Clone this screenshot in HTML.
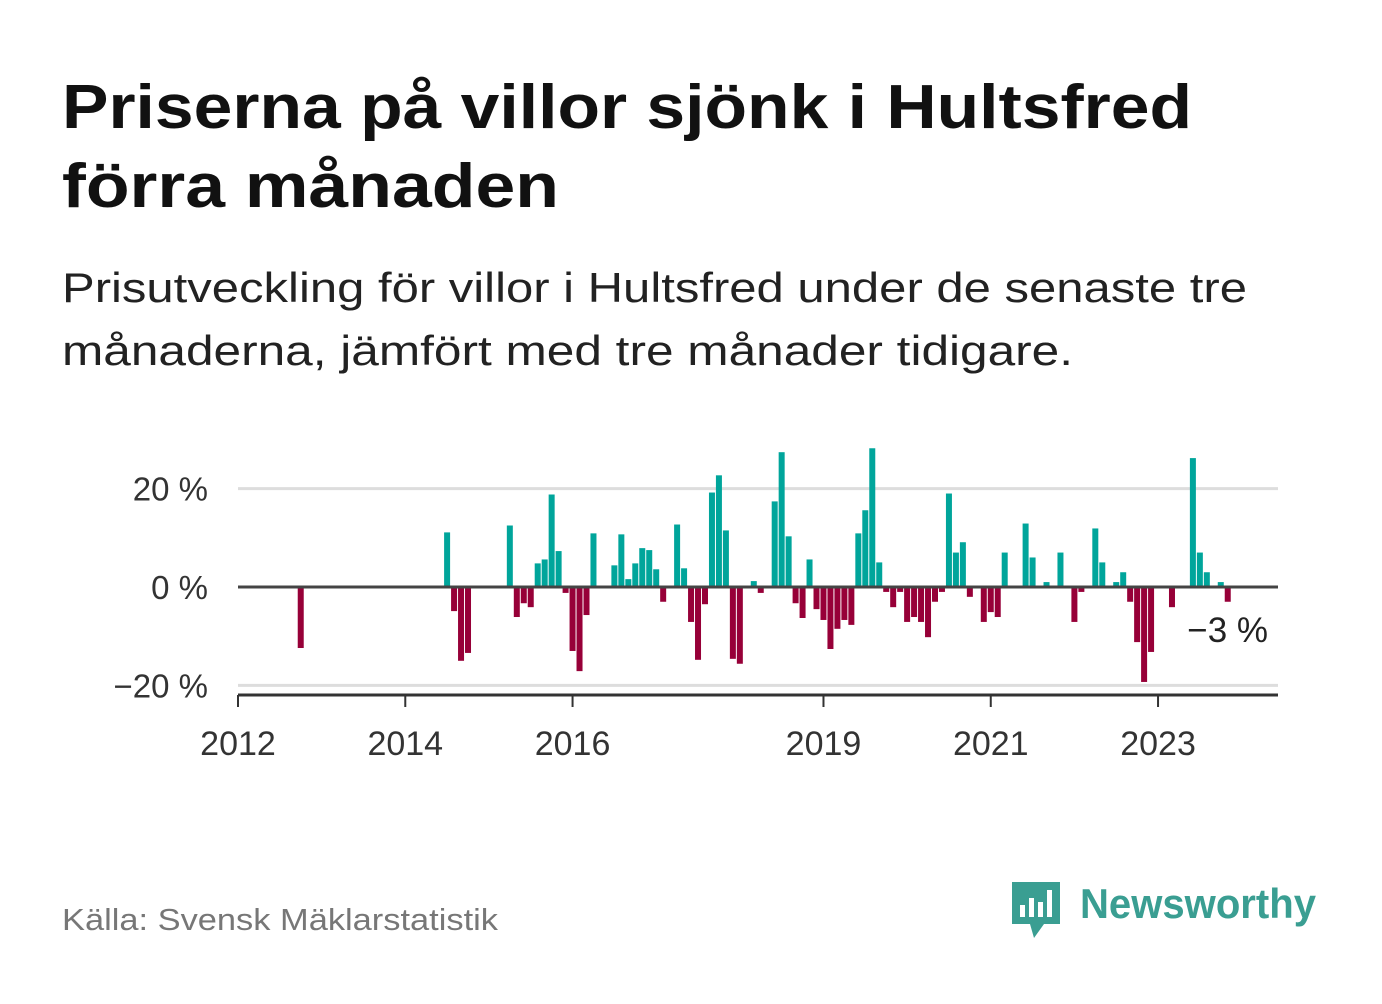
<!DOCTYPE html>
<html><head><meta charset="utf-8"><style>
body{margin:0;background:#fff;width:1382px;height:999px;overflow:hidden;font-family:"Liberation Sans",sans-serif;}
</style></head><body>
<svg width="1382" height="999" xmlns="http://www.w3.org/2000/svg">
<text x="62" y="128" font-size="62" font-weight="bold" fill="#111" textLength="1130" lengthAdjust="spacingAndGlyphs">Priserna på villor sjönk i Hultsfred</text>
<text x="62" y="207" font-size="62" font-weight="bold" fill="#111" textLength="497" lengthAdjust="spacingAndGlyphs">förra månaden</text>
<text x="62" y="302" font-size="42" fill="#222" textLength="1185" lengthAdjust="spacingAndGlyphs">Prisutveckling för villor i Hultsfred under de senaste tre</text>
<text x="62" y="365" font-size="42" fill="#222" textLength="1011" lengthAdjust="spacingAndGlyphs">månaderna, jämfört med tre månader tidigare.</text>
<g id="plot"></g>
<text x="62" y="930" font-size="31" fill="#777" textLength="436" lengthAdjust="spacingAndGlyphs">Källa: Svensk Mäklarstatistik</text>
<g>
<path d="M1012 882 h48 v42 h-16 l-10 14 l-4 -14 h-18 z" fill="#3a9e92"/>
<rect x="1020" y="905" width="5" height="12" fill="#fff"/><rect x="1029" y="898" width="5" height="19" fill="#fff"/><rect x="1038" y="902" width="5" height="15" fill="#fff"/><rect x="1047" y="890" width="5" height="27" fill="#fff"/>
<text x="1080" y="918" font-size="42" font-weight="bold" fill="#3a9e92" textLength="236" lengthAdjust="spacingAndGlyphs">Newsworthy</text>
</g>
</svg>
<script>
const months=[9,30,31,32,33,39,40,41,42,43,44,45,46,47,48,49,50,51,54,55,56,57,58,59,60,61,63,64,65,66,67,68,69,70,71,72,74,75,77,78,79,80,81,82,83,84,85,86,87,88,89,90,91,92,93,94,95,96,97,98,99,100,101,102,103,104,105,107,108,109,110,113,114,116,118,120,121,123,124,126,127,128,129,130,131,134,137,138,139,141,142];
const values=[-12.4,11.1,-4.9,-15.0,-13.4,12.5,-6.1,-3.3,-4.1,4.8,5.6,18.8,7.3,-1.2,-13.0,-17.1,-5.7,10.9,4.4,10.7,1.6,4.8,7.9,7.5,3.6,-3.0,12.7,3.8,-7.1,-14.8,-3.5,19.2,22.7,11.5,-14.6,-15.6,1.2,-1.2,17.4,27.4,10.3,-3.3,-6.3,5.6,-4.5,-6.7,-12.6,-8.5,-6.7,-7.7,10.9,15.6,28.2,5.0,-1.0,-4.1,-1.0,-7.1,-6.1,-7.1,-10.2,-3.0,-1.0,19.0,7.0,9.1,-2.0,-7.1,-5.1,-6.1,7.0,12.9,6.0,1.0,7.0,-7.1,-1.0,11.9,5.0,1.0,3.0,-3.0,-11.2,-19.3,-13.2,-4.1,26.2,7.0,3.0,1.0,-3.0];
const yTicks=[20,0,-20];
const yTickLabels=["20 %","0 %","−20 %"];
const xTickYears=[2012,2014,2016,2019,2021,2023];
const NS="http://www.w3.org/2000/svg";
const g=document.getElementById('plot');
const x=m=>238+m*6.97;
const y=v=>587-v*4.92;
function mk(t,a){const e=document.createElementNS(NS,t);for(const k in a)e.setAttribute(k,a[k]);g.appendChild(e);return e;}
yTicks.forEach((t,i)=>{
 if(t!==0){const l=mk('line',{x1:238,x2:1278,y1:y(t),y2:y(t),stroke:'#dddddd','stroke-width':3});
 
 }
 const tx=mk('text',{x:208,y:y(t)+12,'font-size':33,fill:'#333','text-anchor':'end'});
 tx.textContent=yTickLabels[i];
 
 
});
months.forEach((m,i)=>{
 const v=values[i];
 const r=mk('rect',{x:x(m)-3,width:6,y:Math.min(y(v),y(0)),height:Math.abs(y(v)-y(0)),fill:v>=0?'#00a59b':'#970038'});
 
 
});
const z=mk('line',{x1:238,x2:1278,y1:y(0),y2:y(0),stroke:'#444','stroke-width':3});


const ax=mk('line',{x1:238,x2:1278,y1:695,y2:695,stroke:'#333','stroke-width':3});


xTickYears.forEach(yr=>{
 const xx=x((yr-2012)*12);
 const t=mk('line',{x1:xx,x2:xx,y1:695,y2:707,stroke:'#333','stroke-width':2});
 
 
 const l=mk('text',{x:xx,y:755,'font-size':34,fill:'#333','text-anchor':'middle'});
 l.textContent=yr;
 
 
});
const lv=values[values.length-1];
const lab=mk('text',{x:1268,y:642,'font-size':35,fill:'#222','text-anchor':'end'});
lab.textContent=(lv<0?'−':'')+Math.abs(Math.round(lv))+' %';


</script>
</body></html>
